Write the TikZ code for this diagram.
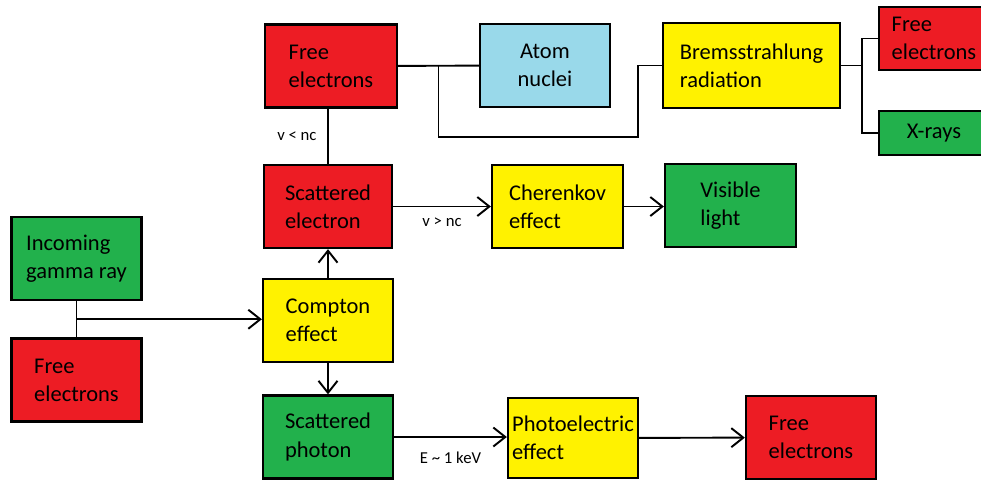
\documentclass[tikz,border=0pt]{standalone}
\usepackage{fontspec}
\setmainfont{Carlito}
\usetikzlibrary{positioning, calc, arrows.meta}

\definecolor{boxred}{HTML}{ED1C24}
\definecolor{boxblue}{HTML}{99D9EA}
\definecolor{boxyellow}{HTML}{FFF200}
\definecolor{boxgreen}{HTML}{22B14C}

\begin{document}
\begin{tikzpicture}[
    x=0.02cm, y=-0.02cm,
    box/.style={rectangle, draw, line width=1.3pt, align=left, inner sep=2pt, minimum width=2.6cm, minimum height=1.66cm, font=\fontsize{12.8}{16}\selectfont},
    redbox/.style={box, fill=boxred},
    bluebox/.style={box, fill=boxblue, align=center},
    yellowbox/.style={box, fill=boxyellow},
    greenbox/.style={box, fill=boxgreen},
    line/.style={draw, line width=1.1pt},
    arrow/.style={line, -{Straight Barb[length=2.4mm, width=3.8mm, line width=1.1pt]}},
    cond/.style={font=\fontsize{9.5}{11}\selectfont, inner sep=2pt}
]
    \useasboundingbox (0,0) rectangle (981,481);
    \clip (0,0) rectangle (981,481);

    % Sources
    \node[greenbox] (gamma) at (76.5,258.5) {Incoming\\gamma ray};
    \node[redbox] (freeleft) at (76.5,380) {Free\\electrons};

    % Compton and its products
    \node[yellowbox] (compton) at (328,320.5) {Compton\\effect};
    \node[redbox, minimum width=2.56cm] (scatel) at (328,206.5) {Scattered\\electron};
    \node[greenbox] (scatph) at (328,437) {Scattered\\photon};

    % Upper branch
    \node[redbox, minimum width=2.64cm] (freetop) at (331,66) {Free\\electrons};
    \node[bluebox] (nuclei) at (545,65.5) {Atom\\nuclei};
    \node[yellowbox, minimum width=3.54cm, minimum height=1.7cm] (brems) at (751.5,65.5) {Bremsstrahlung\\radiation};
    \node[redbox, minimum width=2.2cm, minimum height=1.26cm] (freebrems) at (934,38.5) {Free\\electrons};
    \node[greenbox, minimum width=2.2cm, minimum height=0.88cm] (xrays) at (934,133) {X-rays};

    % Cherenkov branch
    \node[yellowbox, minimum width=2.62cm] (cherenkov) at (557.5,206.5) {Cherenkov\\effect};
    \node[greenbox, minimum width=2.62cm] (light) at (730.5,205.5) {Visible\\light};

    % Photoelectric branch
    \node[yellowbox, minimum height=1.6cm] (photo) at (573,438) {Photoelectric\\effect};
    \node[redbox] (freephoto) at (811,437.5) {Free\\electrons};

    % Edges - Input
    \coordinate (join) at ($(gamma.south)!0.5!(freeleft.north)$);
    \draw[line] (gamma) -- (freeleft);
    \draw[arrow] (join) -- (join -| compton.west);

    % Edges - Compton
    \draw[arrow] (compton) -- (scatel);
    \draw[arrow] (compton) -- (scatph);

    % Edges - Scattered electron
    \draw[line] (scatel.north) -- (scatel.north |- freetop.south) node[midway, left, cond, xshift=-4pt] {v < nc};
    \draw[arrow] (scatel) -- (cherenkov) node[midway, below=4pt, cond] {v > nc};
    \draw[arrow] (cherenkov.east) -- (cherenkov.east -| light.west);

    % Edges - Free electrons and nuclei
    \coordinate (split) at ($(freetop.east)!0.5!(nuclei.west)$);
    \coordinate (low) at (638,137);
    \draw[line] (freetop) -- (nuclei);
    \draw[line] (split) |- (low) |- (brems.west);

    % Edges - Bremsstrahlung
    \coordinate (fork) at ($(brems.east)+(21,0)$);
    \draw[line] (brems.east) -- (fork);
    \draw[line] (fork) |- (freebrems.west);
    \draw[line] (fork) |- (xrays.west);

    % Edges - Scattered photon
    \draw[arrow] (scatph.east) -- (photo.west |- scatph.east) node[midway, below=6pt, cond] {E \textasciitilde{} 1 keV};
    \draw[arrow] (photo) -- (freephoto);

\end{tikzpicture}
\end{document}
